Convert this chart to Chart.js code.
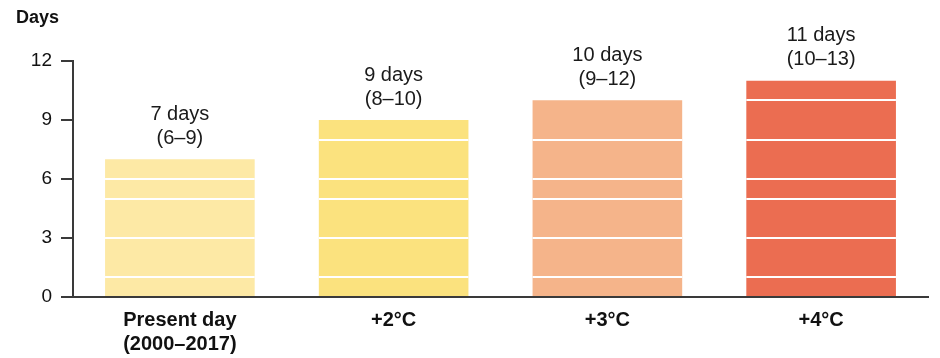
<!DOCTYPE html>
<html><head><meta charset="utf-8">
<script src="https://cdn.jsdelivr.net/npm/chart.js@4"></script>
<style>html,body{margin:0;padding:0;background:#fff}#wrap{width:940px;height:358px}</style>
</head><body><div id="wrap"><canvas id="c" width="940" height="358"></canvas></div>
<script>
const categories = [["Present day","(2000–2017)"],"+2°C","+3°C","+4°C"];
const values = [7, 9, 10, 11];
const valueLabels = [["7 days","(6–9)"],["9 days","(8–10)"],["10 days","(9–12)"],["11 days","(10–13)"]];
const barColors = ["#FDE9A5","#FBE27E","#F5B48A","#EB6D51"];
const yTicks = [0, 3, 6, 9, 12];
const whiteLineValues = [1, 3, 5, 6, 8, 10];
const yTitle = "Days";

const FONT = "'Liberation Sans', Arial, sans-serif";

const labelsPlugin = {
  id: 'labels',
  afterDatasetsDraw(chart) {
    const ctx = chart.ctx;
    const meta = chart.getDatasetMeta(0);
    const ls = chart.scales.yLines;
    ctx.save();
    ctx.strokeStyle = '#ffffff';
    ctx.lineWidth = 2;
    meta.data.forEach((bar) => {
      const half = bar.width / 2;
      ls.ticks.forEach(t => {
        const py = Math.round(ls.getPixelForValue(t.value));
        if (py > bar.y + 1) {
          ctx.beginPath();
          ctx.moveTo(bar.x - half, py);
          ctx.lineTo(bar.x + half, py);
          ctx.stroke();
        }
      });
    });
    ctx.fillStyle = '#1a1a1a';
    ctx.font = '20px ' + FONT;
    ctx.textAlign = 'center';
    ctx.textBaseline = 'middle';
    meta.data.forEach((bar, i) => {
      const lines = valueLabels[i];
      ctx.fillText(lines[0], bar.x, bar.y - 45);
      ctx.fillText(lines[1], bar.x, bar.y - 21);
    });
    ctx.fillStyle = '#111';
    ctx.font = 'bold 18px ' + FONT;
    ctx.textAlign = 'left';
    ctx.fillText(yTitle, 16, 18);
    ctx.restore();
  }
};

new Chart(document.getElementById('c'), {
  type: 'bar',
  data: {
    labels: categories,
    datasets: [{
      data: values,
      backgroundColor: barColors,
      borderWidth: 0,
      barPercentage: 0.7,
      categoryPercentage: 1.0
    }]
  },
  options: {
    responsive: false,
    animation: false,
    layout: { padding: { top: 61, right: 12, left: 0, bottom: 0 } },
    plugins: { legend: { display: false }, tooltip: { enabled: false } },
    scales: {
      x: {
        grid: { display: false, drawTicks: false },
        border: { display: true, color: '#3a3a3a', width: 2 },
        ticks: { color: '#111', font: { family: FONT, size: 20, weight: 'bold', lineHeight: 1.2 }, padding: 11, maxRotation: 0, autoSkip: false },
        afterFit(s) { s.height = 61; }
      },
      y: {
        min: 0, max: 12,
        afterBuildTicks(s) { s.ticks = yTicks.map(v => ({ value: v })); },
        grid: { drawOnChartArea: false, drawTicks: true, tickLength: 12, color: '#3a3a3a', lineWidth: 2 },
        border: { display: true, color: '#3a3a3a', width: 2 },
        ticks: { color: '#111', font: { family: FONT, size: 19 }, padding: 9 },
        afterFit(s) { s.width = 73; }
      },
      yLines: {
        type: 'linear',
        position: 'right',
        min: 0, max: 12,
        display: true,
        afterBuildTicks(s) { s.ticks = whiteLineValues.map(v => ({ value: v })); },
        grid: { display: false, drawTicks: false },
        border: { display: false },
        ticks: { display: false },
        afterFit(s) { s.width = 0; }
      }
    }
  },
  plugins: [labelsPlugin]
});
</script>
</body></html>
